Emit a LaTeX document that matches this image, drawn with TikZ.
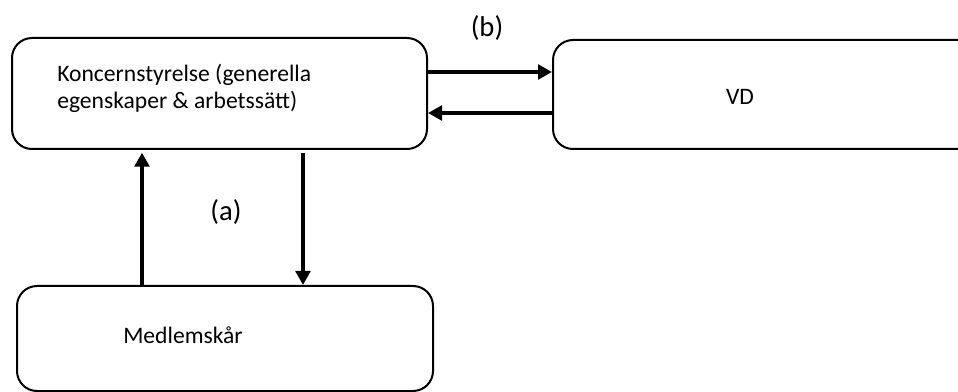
\documentclass[tikz,border=0pt]{standalone}
\usepackage{fontspec}
\setmainfont{Carlito}
\usetikzlibrary{arrows.meta,calc}
\begin{document}
\begin{tikzpicture}[x=0.75pt,y=-0.75pt,
  box/.style={draw,line width=1.5pt,rounded corners=15pt,inner sep=0pt},
  lbl/.style={inner sep=0pt,font=\fontsize{17.7pt}{20.5pt}\selectfont},
  big/.style={inner sep=0pt,font=\fontsize{21.5pt}{26pt}\selectfont},
  conn/.style={line width=3pt,-{Triangle[length=10.5pt,width=11pt]}}]
\useasboundingbox (0,0) rectangle (958,392);
\fill[white] (0,0) rectangle (958,392);
\node[box,minimum width=311.25pt,minimum height=83.25pt] (b1) at (219.5,93.5) {};
\node[box,minimum width=318.75pt,minimum height=81.75pt] (b2) at (765.5,94.5) {};
\node[box,minimum width=312pt,minimum height=78.75pt] (b3) at (225,338.5) {};
\node[lbl,anchor=west,align=left] (t1) at (57,88.5) {Koncernstyrelse (generella\\egenskaper \& arbetssätt)};
\node[lbl] (t2) at (740,97) {VD};
\node[lbl] (t3) at (183,335) {Medlemskår};
\node[big] (la) at (226,212) {(a)};
\node[big] (lb) at (487,28) {(b)};
\coordinate (y1) at (0,72);
\coordinate (y2) at (0,113);
\coordinate (xu) at (142,0);
\coordinate (xd) at (303,0);
\draw[conn] (b1.east |- y1) -- (b2.west |- y1);
\draw[conn] (b2.west |- y2) -- (b1.east |- y2);
\draw[conn,shorten >=2pt] (b3.north -| xu) -- (b1.south -| xu);
\draw[conn,shorten <=2pt] (b1.south -| xd) -- (b3.north -| xd);
\end{tikzpicture}
\end{document}
